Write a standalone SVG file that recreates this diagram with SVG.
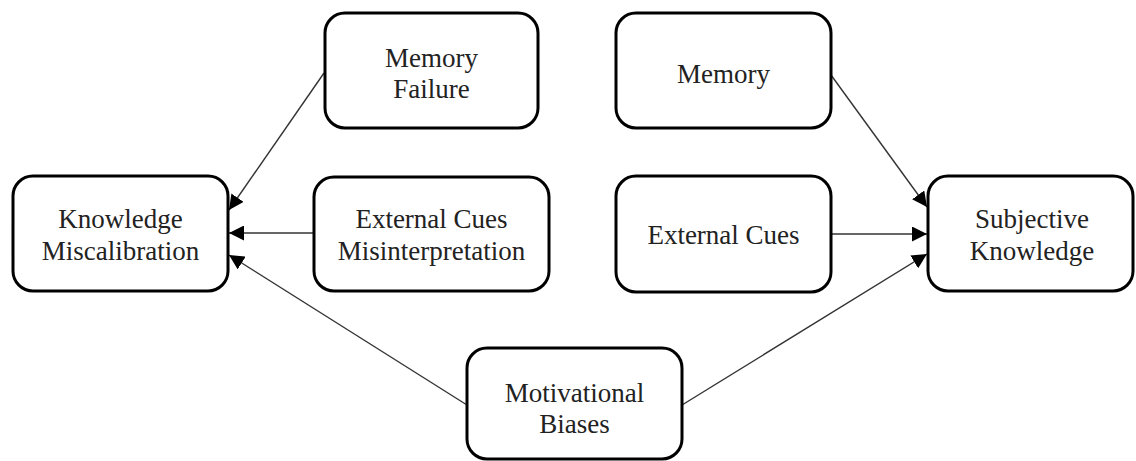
<svg xmlns="http://www.w3.org/2000/svg" width="1136" height="461" viewBox="0 0 1136 461">
  <style>
    .box { fill: #ffffff; stroke: #000000; stroke-width: 3; }
    .label { font-family: 'Liberation Serif', 'Times New Roman', serif; font-size: 27px; fill: #222222; text-anchor: middle; }
    .edge { stroke: #333333; stroke-width: 1.4; fill: none; marker-end: url(#arrow); }
  </style>
  <defs>
    <marker id="arrow" markerUnits="userSpaceOnUse" markerWidth="16" markerHeight="15" refX="15" refY="7.5" orient="auto">
      <path d="M0,0 L15,7.5 L0,15 z" fill="#000000"/>
    </marker>
  </defs>
  <rect width="1136" height="461" fill="#ffffff"/>

  <!-- connectors -->
  <g id="connectors">
    <line class="edge" x1="324" y1="73" x2="229" y2="210"/>
    <line class="edge" x1="314" y1="233" x2="229" y2="233"/>
    <line class="edge" x1="467" y1="405" x2="229" y2="255"/>
    <line class="edge" x1="831" y1="75" x2="927" y2="207"/>
    <line class="edge" x1="831" y1="234" x2="927" y2="234"/>
    <line class="edge" x1="682" y1="405" x2="927" y2="254"/>
  </g>

  <!-- nodes -->
  <g id="knowledge-miscalibration">
    <rect class="box" x="13" y="176" width="215" height="115" rx="20" ry="20"/>
    <text class="label" x="120.5" y="228">Knowledge</text>
    <text class="label" x="120.5" y="260">Miscalibration</text>
  </g>
  <g id="memory-failure">
    <rect class="box" x="325" y="13" width="213" height="115" rx="20" ry="20"/>
    <text class="label" x="431.5" y="67">Memory</text>
    <text class="label" x="431.5" y="98">Failure</text>
  </g>
  <g id="external-cues-misinterpretation">
    <rect class="box" x="314" y="177" width="235" height="114" rx="20" ry="20"/>
    <text class="label" x="431.5" y="228">External Cues</text>
    <text class="label" x="431.5" y="260">Misinterpretation</text>
  </g>
  <g id="motivational-biases">
    <rect class="box" x="467" y="348" width="215" height="111" rx="20" ry="20"/>
    <text class="label" x="574.5" y="402">Motivational</text>
    <text class="label" x="574.5" y="433">Biases</text>
  </g>
  <g id="memory">
    <rect class="box" x="616" y="13" width="215" height="115" rx="20" ry="20"/>
    <text class="label" x="723.5" y="83">Memory</text>
  </g>
  <g id="external-cues">
    <rect class="box" x="616" y="176" width="215" height="116" rx="20" ry="20"/>
    <text class="label" x="723.5" y="244">External Cues</text>
  </g>
  <g id="subjective-knowledge">
    <rect class="box" x="928" y="176" width="205" height="115" rx="20" ry="20"/>
    <text class="label" x="1032" y="228">Subjective</text>
    <text class="label" x="1032" y="260">Knowledge</text>
  </g>
</svg>
